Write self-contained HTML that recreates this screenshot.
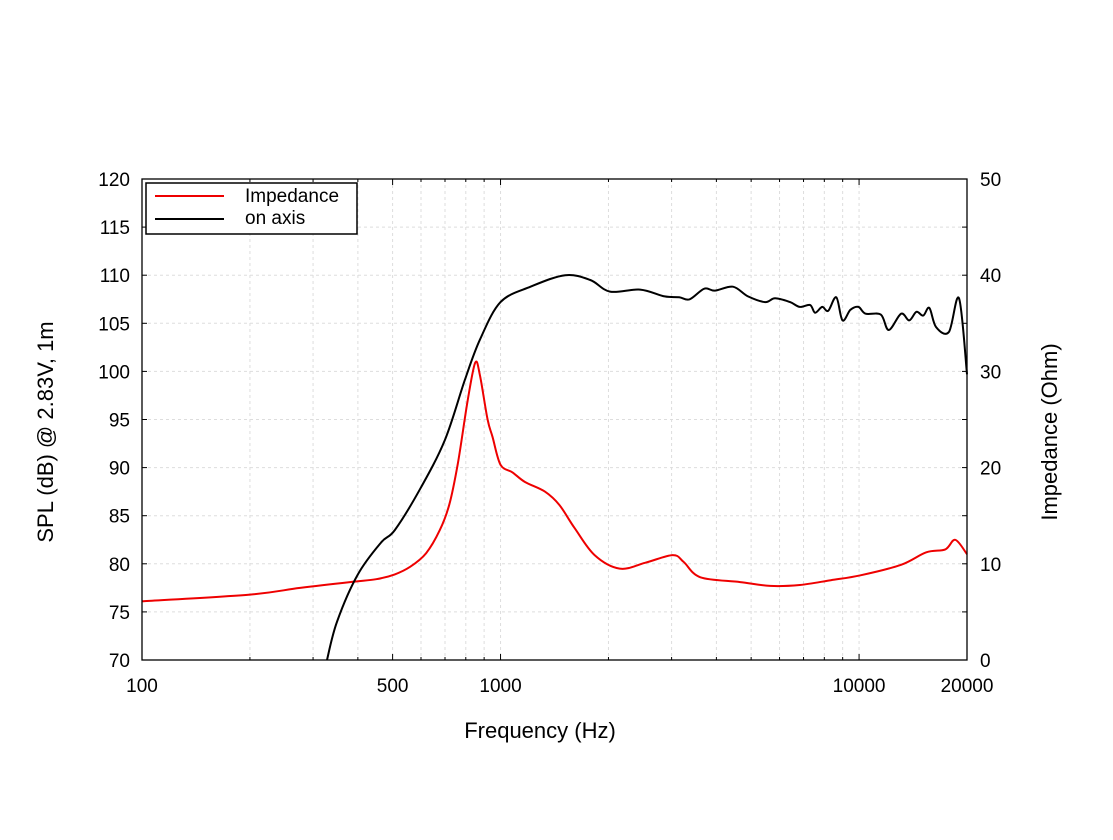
<!DOCTYPE html>
<html><head><meta charset="utf-8"><style>
body{margin:0;background:#fff;}
svg text{font-family:"Liberation Sans","DejaVu Sans",sans-serif;fill:#000;}
</style></head><body>
<svg id="chart" width="1113" height="835" xmlns="http://www.w3.org/2000/svg">
<g id="grid"></g>
<g id="ticks"></g>
<g id="series"></g>
<rect x="142" y="179" width="825" height="481" fill="none" stroke="#000" stroke-width="1.3"/>
<text x="540" y="738" font-size="22" text-anchor="middle">Frequency (Hz)</text>
<text transform="translate(53,432) rotate(-90)" font-size="22" text-anchor="middle">SPL (dB) @ 2.83V, 1m</text>
<text transform="translate(1057,432) rotate(-90)" font-size="22" text-anchor="middle">Impedance (Ohm)</text>
<g>
<rect x="146" y="183" width="211" height="51" fill="#fff" stroke="#000" stroke-width="1.5"/>
<line x1="155" y1="196" x2="224" y2="196" stroke="#e00" stroke-width="2"/>
<text x="245" y="202" font-size="19">Impedance</text>
<line x1="155" y1="219" x2="224" y2="219" stroke="#000" stroke-width="2"/>
<text x="245" y="224" font-size="19">on axis</text>
</g>
</svg>
<script>
const splFreq=[328,350,400,464,507,595,700,795,876,1000,1212,1515,1780,2020,2450,2870,3150,3370,3700,3960,4450,4900,5470,5830,6420,6840,7300,7540,7890,8200,8640,8990,9460,9960,10430,11500,12100,13100,13800,14450,15100,15700,16400,17800,19000,20000];
const splDb=[70,74,78.9,82.2,83.5,87.7,92.9,99.1,103.3,107.2,108.8,110,109.5,108.3,108.5,107.8,107.7,107.5,108.6,108.4,108.8,107.8,107.2,107.6,107.2,106.7,106.9,106.1,106.7,106.3,107.7,105.3,106.4,106.7,106,105.9,104.3,106,105.3,106.2,105.8,106.6,104.6,104.1,107.6,99.7];
const impFreq=[100,200,276,380,450,507,560,620,677,720,760,810,850,876,920,950,1000,1080,1170,1330,1460,1610,1830,2150,2530,3020,3240,3610,4660,5650,6840,8340,10090,13100,15400,17400,18550,20000];
const impOhm=[6.1,6.8,7.5,8.1,8.4,8.9,9.7,11.1,13.5,16.2,20.4,27,30.9,29.6,25,23.2,20.3,19.5,18.5,17.5,16.1,13.7,10.9,9.5,10.1,10.9,10.2,8.6,8.1,7.7,7.8,8.3,8.8,9.9,11.2,11.5,12.5,11];
const xTicks=[100,500,1000,10000,20000];
const xMinor=[200,300,400,600,700,800,900,2000,3000,4000,5000,6000,7000,8000,9000];
const yLeftTicks=[70,75,80,85,90,95,100,105,110,115,120];
const yRightTicks=[0,10,20,30,40,50];
const NS="http://www.w3.org/2000/svg";
const X0=142,X1=967,Y0=660,Y1=179;
const xs=f=>X0+(Math.log10(f)-2)/Math.log10(200)*(X1-X0);
const yl=v=>Y0-(v-70)/50*(Y0-Y1);
const yr=v=>Y0-v/50*(Y0-Y1);
function mk(tag,attrs,parent){const e=document.createElementNS(NS,tag);for(const k in attrs)e.setAttribute(k,attrs[k]);document.getElementById(parent).appendChild(e);return e;}
function smooth(pts){let d="M"+pts[0][0].toFixed(1)+","+pts[0][1].toFixed(1);
 for(let i=0;i<pts.length-1;i++){const p0=pts[i-1]||pts[i],p1=pts[i],p2=pts[i+1],p3=pts[i+2]||p2;
  const c1=[p1[0]+(p2[0]-p0[0])/6,p1[1]+(p2[1]-p0[1])/6],c2=[p2[0]-(p3[0]-p1[0])/6,p2[1]-(p3[1]-p1[1])/6];
  d+="C"+c1.map(v=>v.toFixed(1))+" "+c2.map(v=>v.toFixed(1))+" "+p2.map(v=>v.toFixed(1));}
 return d;}
const gs={stroke:"#ddd","stroke-width":1,"stroke-dasharray":"3,3"};
xTicks.concat(xMinor).forEach(f=>{const x=xs(f);
 const g=mk("line",Object.assign({x1:x,x2:x,y1:Y1,y2:Y0},gs),"grid");
 
 
 const t1=mk("line",{x1:x,x2:x,y1:Y0,y2:Y0-(xTicks.includes(f)?6:3),stroke:"#000"},"ticks");
 
 
 const t2=mk("line",{x1:x,x2:x,y1:Y1,y2:Y1+(xTicks.includes(f)?6:3),stroke:"#000"},"ticks");
 
 });
xTicks.forEach(f=>{const t=mk("text",{x:xs(f),y:692,"font-size":19,"text-anchor":"middle"},"ticks");t.textContent=f;
 
 });
yLeftTicks.forEach(v=>{const y=yl(v);
 const g=mk("line",Object.assign({x1:X0,x2:X1,y1:y,y2:y},gs),"grid");
 
 
 const k=mk("line",{x1:X0,x2:X0+5,y1:y,y2:y,stroke:"#000"},"ticks");
 
 
 const k2=mk("line",{x1:X1,x2:X1-5,y1:y,y2:y,stroke:"#000"},"ticks");
 
 
 const t=mk("text",{x:130,y:y+7,"font-size":19,"text-anchor":"end"},"ticks");t.textContent=v;
 
 });
yRightTicks.forEach(v=>{const t=mk("text",{x:980,y:yr(v)+7,"font-size":19},"ticks");t.textContent=v;
 
 });
const p1=mk("path",{d:smooth(impFreq.map((f,i)=>[xs(f),yr(impOhm[i])])),fill:"none",stroke:"#e00","stroke-width":2,"stroke-linejoin":"round"},"series");


const p2=mk("path",{d:smooth(splFreq.map((f,i)=>[xs(f),yl(splDb[i])])),fill:"none",stroke:"#000","stroke-width":2,"stroke-linejoin":"round"},"series");


</script>
</body></html>
